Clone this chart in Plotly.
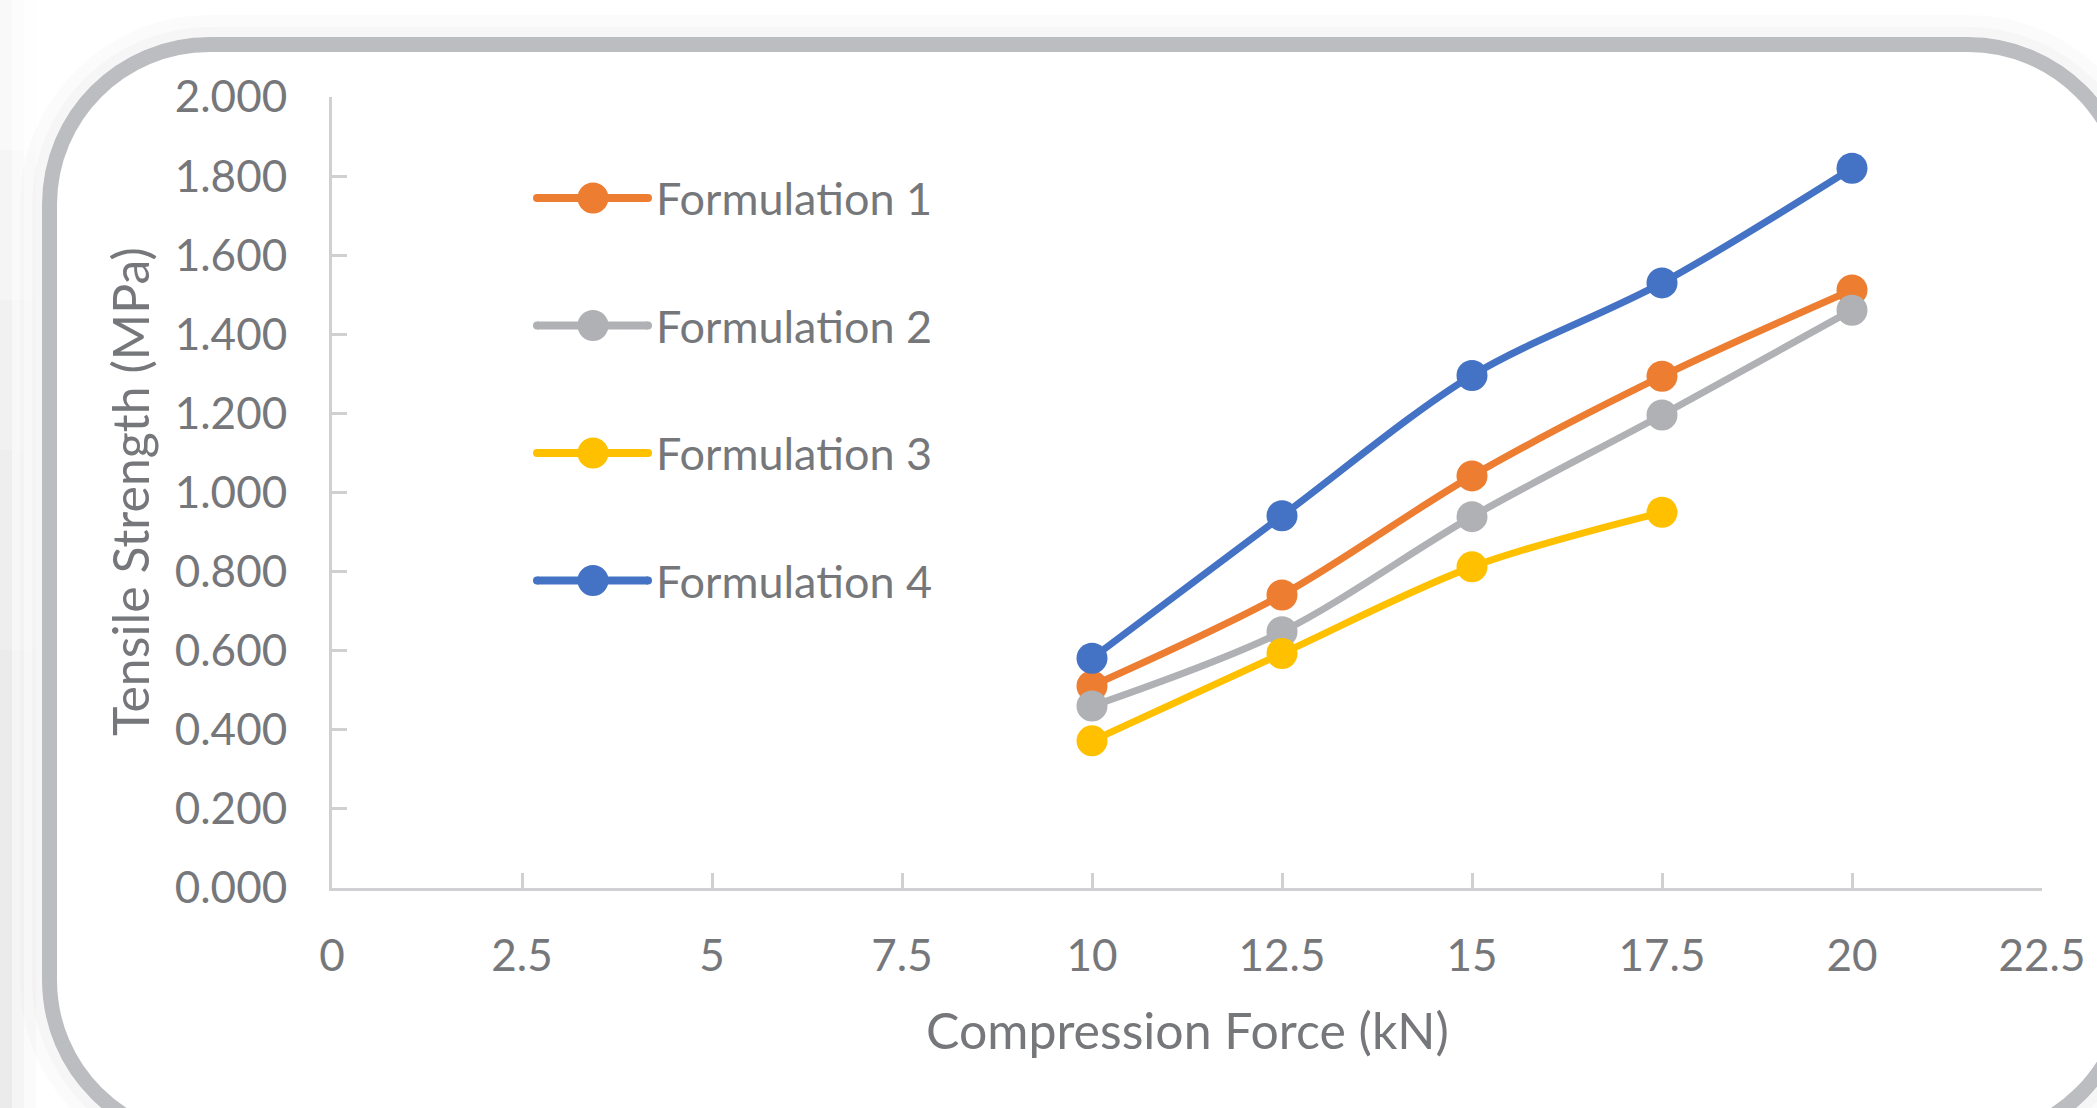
import plotly.graph_objects as go

# ---- data ----
force_kn = [10, 12.5, 15, 17.5, 20]
series_names = ["Formulation 1", "Formulation 2", "Formulation 3", "Formulation 4"]
f1 = [0.511, 0.741, 1.042, 1.294, 1.512]
f2 = [0.460, 0.648, 0.939, 1.196, 1.461]
f3 = [0.372, 0.593, 0.812, 0.950]
f4 = [0.581, 0.941, 1.296, 1.530, 1.820]
series_values = [f1, f2, f3, f4]
series_colors = ["#ED7D31", "#B0B1B4", "#FFC000", "#4472C4"]
x_title = "Compression Force (kN)"
y_title = "Tensile Strength (MPa)"

# ---- layout geometry (pixels) ----
W, H = 2097, 1108
L, R, T, B = 332, 2042, 97, 888
PW, PH = R - L, B - T
TXT = "#76777b"
FONT = "Lato, 'Open Sans', sans-serif"


def px(x, y):
    return (x - L) / PW, (B - y) / PH


def rrect_path(left, top, right, bottom, r):
    k = 0.5523 * r
    pts = [
        ("M", [(left, top + r)]),
        ("C", [(left, top + r - k), (left + r - k, top), (left + r, top)]),
        ("L", [(right - r, top)]),
        ("C", [(right - r + k, top), (right, top + r - k), (right, top + r)]),
        ("L", [(right, bottom - r)]),
        ("C", [(right, bottom - r + k), (right - r + k, bottom), (right - r, bottom)]),
        ("L", [(left + r, bottom)]),
        ("C", [(left + r - k, bottom), (left, bottom - r + k), (left, bottom - r)]),
    ]
    s = ""
    for cmd, ps in pts:
        s += cmd + " ".join("%.5f,%.5f" % px(a, b) for a, b in ps) + " "
    return s + "Z"


fig = go.Figure()
for name, vals, col in zip(series_names, series_values, series_colors):
    fig.add_trace(go.Scatter(
        x=force_kn[:len(vals)], y=vals, name=name, mode="lines+markers",
        line=dict(color=col, width=7, shape="spline", smoothing=0.9),
        marker=dict(color=col, size=31, line=dict(width=0)),
        cliponaxis=False, showlegend=False,
    ))

shapes = []
# faint background shading on the far left edge (stronger towards the bottom)
for (ya, yb, f) in [(0, 150, 0.3), (150, 300, 0.5), (300, 450, 0.7), (450, 650, 0.85), (650, H, 1.0)]:
    for x1, op in [(12, 0.04), (24, 0.025), (36, 0.015)]:
        ax0, ay0 = px(0, ya)
        ax1, ay1 = px(x1, yb)
        shapes.append(dict(type="rect", xref="paper", yref="paper", x0=ax0, x1=ax1,
                           y0=ay1, y1=ay0, fillcolor="rgba(0,0,0,%.4f)" % (op * f),
                           line=dict(width=0), layer="below"))

# soft shadow outside the frame
fl, ft, fr, fb, rad = 49.5, 44.5, 2128, 1140, 160
for w, op in [(22, 0.015), (10, 0.018)]:
    d = 7.5 + w / 2
    shapes.append(dict(type="path", xref="paper", yref="paper",
                       path=rrect_path(fl - d, ft - d, fr + d, fb + d, rad + d),
                       line=dict(color="rgba(0,0,0,%s)" % op, width=w), layer="below"))
# frame
shapes.append(dict(type="path", xref="paper", yref="paper",
                   path=rrect_path(fl, ft, fr, fb, rad),
                   line=dict(color="#BCBDC1", width=15), layer="below"))

# custom legend
annotations = []
for i, (name, col) in enumerate(zip(series_names, series_colors)):
    yc = 198 + 127.5 * i
    x0, y0 = px(537, yc)
    x1, _ = px(648, yc)
    shapes.append(dict(type="line", xref="paper", yref="paper", x0=x0, x1=x1, y0=y0, y1=y0,
                       line=dict(color=col, width=8)))
    for ex in (537, 648):
        cx0, cy0 = px(ex - 4, yc - 4)
        cx1, cy1 = px(ex + 4, yc + 4)
        shapes.append(dict(type="circle", xref="paper", yref="paper", x0=cx0, x1=cx1,
                           y0=cy1, y1=cy0, fillcolor=col, line=dict(width=0)))
    cx0, cy0 = px(593 - 15.5, yc - 15.5)
    cx1, cy1 = px(593 + 15.5, yc + 15.5)
    shapes.append(dict(type="circle", xref="paper", yref="paper", x0=cx0, x1=cx1,
                       y0=cy1, y1=cy0, fillcolor=col, line=dict(width=0)))
    tx, ty = px(654, yc)
    annotations.append(dict(text=name, x=tx, y=ty, xref="paper", yref="paper",
                            xanchor="left", yanchor="middle", showarrow=False,
                            font=dict(size=45, color=TXT, family=FONT)))

# axis titles
ax, ay = px(1187, 1030)
annotations.append(dict(text=x_title, x=ax, y=ay, xref="paper", yref="paper",
                        xanchor="center", yanchor="middle", showarrow=False,
                        font=dict(size=50, color=TXT, family=FONT)))
ax, ay = px(130, 492)
annotations.append(dict(text=y_title, x=ax, y=ay, xref="paper", yref="paper",
                        xanchor="center", yanchor="middle", showarrow=False, textangle=-90,
                        font=dict(size=50, color=TXT, family=FONT)))

axis_common = dict(showline=True, linecolor="#D0D0D2", linewidth=3, showgrid=False,
                   zeroline=False, ticks="inside", ticklen=15, tickwidth=3,
                   tickcolor="#D0D0D2", tickfont=dict(size=44, color=TXT, family=FONT))

fig.update_layout(
    width=W, height=H,
    margin=dict(l=L, r=W - R, t=T, b=H - B, autoexpand=False),
    paper_bgcolor="white", plot_bgcolor="rgba(0,0,0,0)",
    xaxis=dict(range=[0, 22.5], dtick=2.5, tick0=0, ticklabelstandoff=27, **axis_common),
    yaxis=dict(range=[0, 2.0], dtick=0.2, tick0=0, tickformat=".3f", ticklabelstandoff=33,
               **axis_common),
    shapes=shapes, annotations=annotations,
    font=dict(family=FONT, color=TXT),
)
fig.write_html("out.html", config={"displayModeBar": False},
               post_script="document.body.style.margin='0';document.body.style.overflow='hidden';")
